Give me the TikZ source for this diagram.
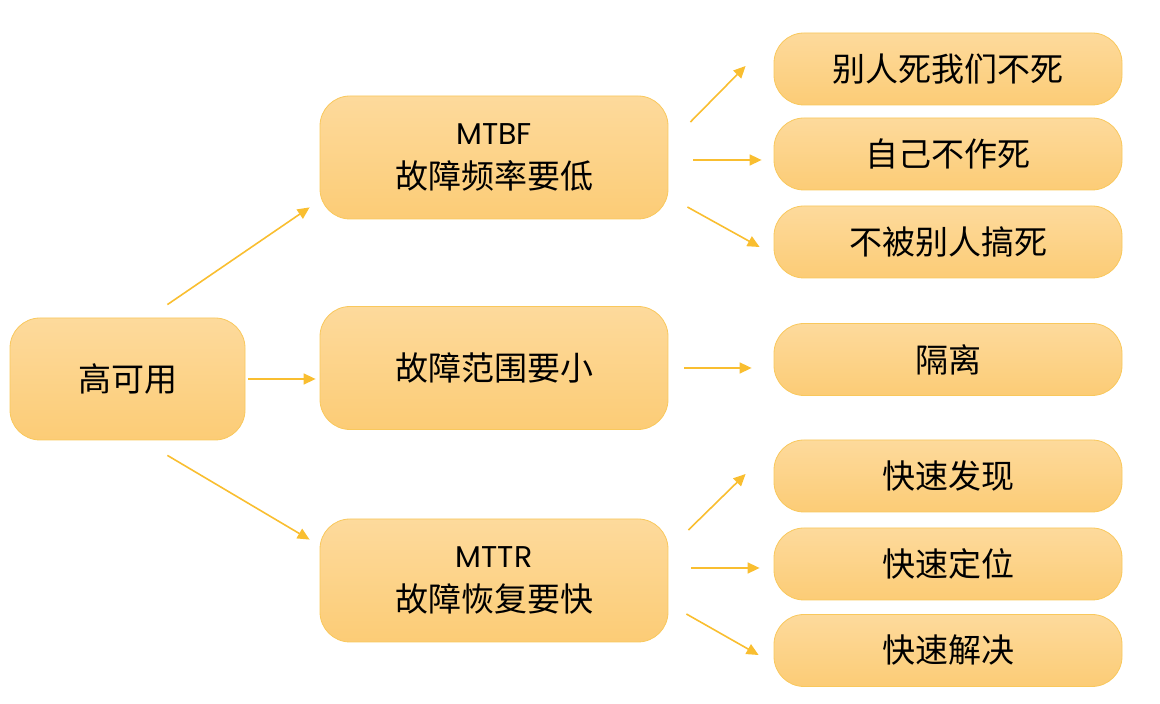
\documentclass[tikz,border=0pt]{standalone}
\usepackage{fontspec}
\setmainfont{Noto Sans CJK SC}
\newfontfamily\latinfont{Poppins}
\usepackage{tikz}
\usetikzlibrary{positioning, arrows.meta}
\definecolor{boxtop}{RGB}{253,218,156}
\definecolor{boxbottom}{RGB}{252,204,118}
\definecolor{boxline}{RGB}{249,200,92}
\definecolor{arrowline}{RGB}{249,190,48}
\tikzset{
    x=1pt, y=1pt,
    box/.style={
        draw=boxline,
        line width=0.8pt,
        top color=boxtop,
        bottom color=boxbottom,
        rounded corners=30pt,
        inner sep=0pt,
        align=center,
        font=\fontsize{33}{44}\selectfont
    },
    rootbox/.style={box, minimum width=235pt, minimum height=122pt},
    midbox/.style={box, minimum width=348pt, minimum height=123pt},
    leafbox/.style={box, minimum width=348pt, minimum height=72pt},
    every edge/.style={
        draw=arrowline,
        -{Triangle[length=12pt,width=11pt]},
        line width=1.6pt
    }
}

\begin{document}
\begin{tikzpicture}
	\useasboundingbox (0,0) rectangle (1160,704);
	\node[rootbox] at (127.5,325) (root) {高可用};
	\node[midbox] at (494,546.5) (mtbf) {{\latinfont\fontsize{30}{44}\selectfont MTBF}\\故障频率要低};
	\node[midbox] at (494,336) (range) {故障范围要小};
	\node[midbox] at (494,123.5) (mttr) {{\latinfont\fontsize{30}{44}\selectfont MTTR}\\故障恢复要快};
	\node[leafbox] at (948,635) (l1) {别人死我们不死};
	\node[leafbox] at (948,550) (l2) {自己不作死};
	\node[leafbox] at (948,462) (l3) {不被别人搞死};
	\node[leafbox] at (948,344.5) (l4) {隔离};
	\node[leafbox] at (948,228) (l5) {快速发现};
	\node[leafbox] at (948,140) (l6) {快速定位};
	\node[leafbox] at (948,53.5) (l7) {快速解决};
	\draw
	([shift={(-78,13)}]root.north east) edge ([shift={(-10,12)}]mtbf.south west)
	([shift={(3,0)}]root.east) edge ([shift={(-4,-11)}]range.west)
	([shift={(-78,-15)}]root.south east) edge ([shift={(-10,-21)}]mttr.north west)
	([shift={(22,35.5)}]mtbf.east) edge ([shift={(-28,3)}]l1.west)
	([shift={(25,-2.5)}]mtbf.east) edge ([shift={(-12,-6)}]l2.west)
	([shift={(19,-49.5)}]mtbf.east) edge ([shift={(-14,-5)}]l3.west)
	([shift={(16,0)}]range.east) edge ([shift={(-22,-8.5)}]l4.west)
	([shift={(20,50.5)}]mttr.east) edge ([shift={(-28,2)}]l5.west)
	([shift={(23,12.5)}]mttr.east) edge ([shift={(-14,-4)}]l6.west)
	([shift={(18,-33.5)}]mttr.east) edge ([shift={(-15,-4.5)}]l7.west);
\end{tikzpicture}
\end{document}
